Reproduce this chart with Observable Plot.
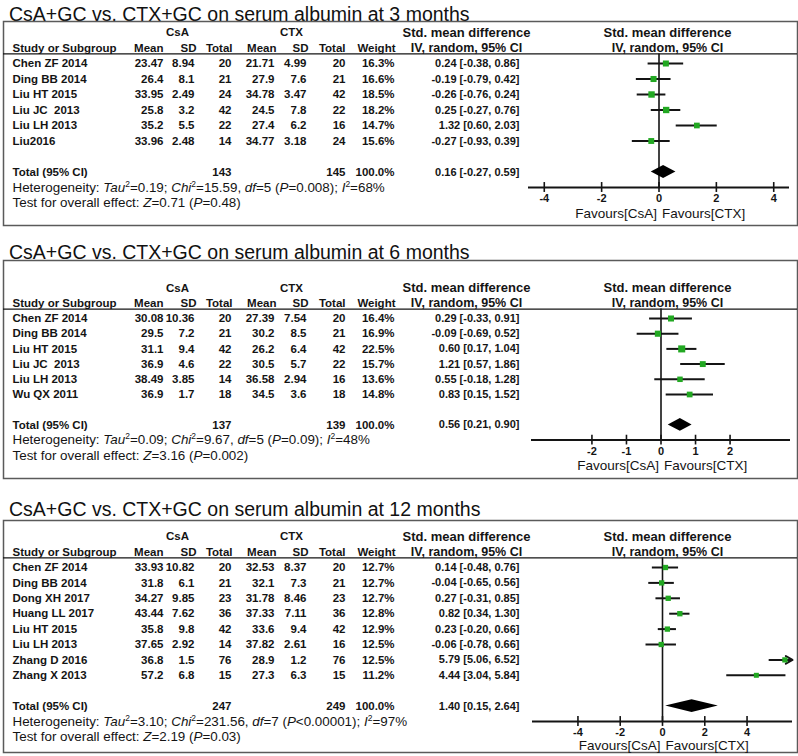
<!DOCTYPE html>
<html><head><meta charset="utf-8">
<script src="https://cdn.jsdelivr.net/npm/d3@7"></script>
<script src="https://cdn.jsdelivr.net/npm/@observablehq/plot@0.6"></script>
<style>
body{margin:0;background:#fff;font-family:"Liberation Sans",Arial,Helvetica,sans-serif;}
#wrap{position:relative;width:798px;height:756px;overflow:hidden;background:#fff;}
.title{position:absolute;left:9px;font-size:19.5px;line-height:20px;color:#111;white-space:nowrap;}
.panel{position:absolute;left:0;}
.panel svg{display:block;overflow:visible;}
</style></head><body><div id="wrap"></div>
<script>
// ---------- Panel 1: 3 months ----------
const title1 = "CsA+GC vs. CTX+GC on serum albumin at 3 months";
const studies1 = ["Chen ZF 2014","Ding BB 2014","Liu HT 2015","Liu JC  2013","Liu LH 2013","Liu2016"];
const csaMean1 = [23.47, 26.4, 33.95, 25.8, 35.2, 33.96];
const csaSD1   = [8.94, 8.1, 2.49, 3.2, 5.5, 2.48];
const csaN1    = [20, 21, 24, 42, 22, 14];
const ctxMean1 = [21.71, 27.9, 34.78, 24.5, 27.4, 34.77];
const ctxSD1   = [4.99, 7.6, 3.47, 7.8, 6.2, 3.18];
const ctxN1    = [20, 21, 42, 22, 16, 24];
const weight1  = [16.3, 16.6, 18.5, 18.2, 14.7, 15.6];
const smd1     = [0.24, -0.19, -0.26, 0.25, 1.32, -0.27];
const lo1      = [-0.38, -0.79, -0.76, -0.27, 0.60, -0.93];
const hi1      = [0.86, 0.42, 0.24, 0.76, 2.03, 0.39];
const totalN1  = [143, 145];
const totalSmd1 = [0.16, -0.27, 0.59];
const het1  = "Heterogeneity: *Tau*^2^=0.19; *Chi*^2^=15.59, *df*=5 (*P*=0.008); *I*^2^=68%";
const test1 = "Test for overall effect: *Z*=0.71 (*P*=0.48)";
const ticks1 = [-4, -2, 0, 2, 4];

// ---------- Panel 2: 6 months ----------
const title2 = "CsA+GC vs. CTX+GC on serum albumin at 6 months";
const studies2 = ["Chen ZF 2014","Ding BB 2014","Liu HT 2015","Liu JC  2013","Liu LH 2013","Wu QX 2011"];
const csaMean2 = [30.08, 29.5, 31.1, 36.9, 38.49, 36.9];
const csaSD2   = [10.36, 7.2, 9.4, 4.6, 3.85, 1.7];
const csaN2    = [20, 21, 42, 22, 14, 18];
const ctxMean2 = [27.39, 30.2, 26.2, 30.5, 36.58, 34.5];
const ctxSD2   = [7.54, 8.5, 6.4, 5.7, 2.94, 3.6];
const ctxN2    = [20, 21, 42, 22, 16, 18];
const weight2  = [16.4, 16.9, 22.5, 15.7, 13.6, 14.8];
const smd2     = [0.29, -0.09, 0.60, 1.21, 0.55, 0.83];
const lo2      = [-0.33, -0.69, 0.17, 0.57, -0.18, 0.15];
const hi2      = [0.91, 0.52, 1.04, 1.86, 1.28, 1.52];
const totalN2  = [137, 139];
const totalSmd2 = [0.56, 0.21, 0.90];
const het2  = "Heterogeneity: *Tau*^2^=0.09; *Chi*^2^=9.67, *df*=5 (*P*=0.09); *I*^2^=48%";
const test2 = "Test for overall effect: *Z*=3.16 (*P*=0.002)";
const ticks2 = [-2, -1, 0, 1, 2];

// ---------- Panel 3: 12 months ----------
const title3 = "CsA+GC vs. CTX+GC on serum albumin at 12 months";
const studies3 = ["Chen ZF 2014","Ding BB 2014","Dong XH 2017","Huang LL 2017","Liu HT 2015","Liu LH 2013","Zhang D 2016","Zhang X 2013"];
const csaMean3 = [33.93, 31.8, 34.27, 43.44, 35.8, 37.65, 36.8, 57.2];
const csaSD3   = [10.82, 6.1, 9.85, 7.62, 9.8, 2.92, 1.5, 6.8];
const csaN3    = [20, 21, 23, 36, 42, 14, 76, 15];
const ctxMean3 = [32.53, 32.1, 31.78, 37.33, 33.6, 37.82, 28.9, 27.3];
const ctxSD3   = [8.37, 7.3, 8.46, 7.11, 9.4, 2.61, 1.2, 6.3];
const ctxN3    = [20, 21, 23, 36, 42, 16, 76, 15];
const weight3  = [12.7, 12.7, 12.7, 12.8, 12.9, 12.5, 12.5, 11.2];
const smd3     = [0.14, -0.04, 0.27, 0.82, 0.23, -0.06, 5.79, 4.44];
const lo3      = [-0.48, -0.65, -0.31, 0.34, -0.20, -0.78, 5.06, 3.04];
const hi3      = [0.76, 0.56, 0.85, 1.30, 0.66, 0.66, 6.52, 5.84];
const totalN3  = [247, 249];
const totalSmd3 = [1.40, 0.15, 2.64];
const het3  = "Heterogeneity: *Tau*^2^=3.10; *Chi*^2^=231.56, *df*=7 (*P*<0.00001); *I*^2^=97%";
const test3 = "Test for overall effect: *Z*=2.19 (*P*=0.03)";
const ticks3 = [-4, -2, 0, 2, 4];

const headNames = ["Study or Subgroup","Mean","SD","Total","Mean","SD","Total","Weight"];

// ---------- layout ----------
const FONT = '"Liberation Sans", Arial, Helvetica, sans-serif';
const INK = "#141414";
const GREEN = "#22a822";
const headX = [12, 163, 196, 232, 276, 308, 345, 395];
const colX = {csaMean:163, csaSD:194, csaN:231, ctxMean:274, ctxSD:306, ctxN:345, w:394, smd:519,
  smdHead:466, forestHead:667, csaHead:177, ctxHead:291};
const layouts = [
  {titleTop: 4, top: 20, height: 206, firstY: 43, step: 15.5, xRange: [528, 789], domain: [-4.55, 4.55], favDy: 26},
  {titleTop: 242, top: 259, height: 220, firstY: 59, step: 15.2, xRange: [531, 790], domain: [-3.75, 3.75], favDy: 26},
  {titleTop: 498.5, top: 519, height: 234, firstY: 48, step: 15.4, xRange: [532, 792], domain: [-6.15, 6.15], favDy: 24.5}
];
const panels = [
  {title: title1, studies: studies1, csaMean: csaMean1, csaSD: csaSD1, csaN: csaN1, ctxMean: ctxMean1, ctxSD: ctxSD1, ctxN: ctxN1, weight: weight1, smd: smd1, lo: lo1, hi: hi1, totalN: totalN1, totalSmd: totalSmd1, het: het1, test: test1, ticks: ticks1},
  {title: title2, studies: studies2, csaMean: csaMean2, csaSD: csaSD2, csaN: csaN2, ctxMean: ctxMean2, ctxSD: ctxSD2, ctxN: ctxN2, weight: weight2, smd: smd2, lo: lo2, hi: hi2, totalN: totalN2, totalSmd: totalSmd2, het: het2, test: test2, ticks: ticks2},
  {title: title3, studies: studies3, csaMean: csaMean3, csaSD: csaSD3, csaN: csaN3, ctxMean: ctxMean3, ctxSD: ctxSD3, ctxN: ctxN3, weight: weight3, smd: smd3, lo: lo3, hi: hi3, totalN: totalN3, totalSmd: totalSmd3, het: het3, test: test3, ticks: ticks3}
];

function richify(svg) {
  const NS = "http://www.w3.org/2000/svg";
  svg.querySelectorAll("text").forEach(t => {
    const s = t.textContent;
    if (!/[*^]/.test(s)) return;
    t.textContent = "";
    let pendingDown = false;
    s.split(/(\*[^*]+\*|\^[^^]+\^)/).filter(x => x).forEach(seg => {
      const ts = document.createElementNS(NS, "tspan");
      if (seg[0] === "*") { ts.setAttribute("font-style", "italic"); seg = seg.slice(1, -1); if (pendingDown) { ts.setAttribute("dy", "5"); pendingDown = false; } }
      else if (seg[0] === "^") { ts.setAttribute("font-size", "8.5"); ts.setAttribute("dy", "-5"); seg = seg.slice(1, -1); pendingDown = true; }
      else if (pendingDown) { ts.setAttribute("dy", "5"); pendingDown = false; }
      ts.textContent = seg;
      t.appendChild(ts);
    });
  });
}

function build(p, L) {
  const k = p.studies.length;
  const rows = p.studies.map((s, i) => ({i, study: s, csaMean: p.csaMean[i], csaSD: p.csaSD[i], csaN: p.csaN[i],
    ctxMean: p.ctxMean[i], ctxSD: p.ctxSD[i], ctxN: p.ctxN[i], w: p.weight[i], smd: p.smd[i], lo: p.lo[i], hi: p.hi[i]}));
  const T = k + 1, A = k + 2, TEST = k + 3;
  const [dmin, dmax] = L.domain;
  const f2 = v => v.toFixed(2);
  const ci = (e, l, h) => `${f2(e)} [${f2(l)}, ${f2(h)}]`;
  const bold = {fontWeight: "bold", fontSize: 11.5, fill: INK};
  const at = x => ({frameAnchor: "left", dx: x - 3});
  const marks = [Plot.frame({stroke: "#5a5a5a", strokeWidth: 1.5})];
  marks.push(Plot.ruleY([-0.62], {stroke: INK, strokeWidth: 1.3}));
  // group headers
  marks.push(Plot.text(["CsA"], {y: -2, text: d => d, ...at(colX.csaHead), textAnchor: "middle", ...bold}));
  marks.push(Plot.text(["CTX"], {y: -2, text: d => d, ...at(colX.ctxHead), textAnchor: "middle", ...bold}));
  headNames.forEach((h, j) => marks.push(Plot.text([h], {y: -1, text: d => d, ...at(headX[j]), textAnchor: j === 0 ? "start" : "end", ...bold})));
  marks.push(Plot.text(["Std. mean difference"], {y: -2, text: d => d, ...at(colX.smdHead), textAnchor: "middle", ...bold, fontSize: 13}));
  marks.push(Plot.text(["IV, random, 95% CI"], {y: -1, text: d => d, ...at(colX.smdHead), textAnchor: "middle", ...bold, fontSize: 12.5}));
  marks.push(Plot.text(["Std. mean difference"], {y: -2, text: d => d, ...at(colX.forestHead), textAnchor: "middle", ...bold, fontSize: 13}));
  marks.push(Plot.text(["IV, random, 95% CI"], {y: -1, text: d => d, ...at(colX.forestHead), textAnchor: "middle", ...bold, fontSize: 12.5}));
  // table body
  marks.push(Plot.text(rows, {y: "i", text: "study", ...at(12), textAnchor: "start", ...bold}));
  ["csaMean","csaSD","csaN","ctxMean","ctxSD","ctxN"].forEach(f =>
    marks.push(Plot.text(rows, {y: "i", text: d => String(d[f]), ...at(colX[f]), textAnchor: "end", ...bold})));
  marks.push(Plot.text(rows, {y: "i", text: d => d.w.toFixed(1) + "%", ...at(colX.w), textAnchor: "end", ...bold}));
  marks.push(Plot.text(rows, {y: "i", text: d => ci(d.smd, d.lo, d.hi), ...at(colX.smd), textAnchor: "end", ...bold, fontSize: 11}));
  // totals
  marks.push(Plot.text(["Total (95% CI)"], {y: T, text: d => d, ...at(12), textAnchor: "start", ...bold}));
  marks.push(Plot.text([p.totalN[0]], {y: T, text: d => String(d), ...at(colX.csaN), textAnchor: "end", ...bold}));
  marks.push(Plot.text([p.totalN[1]], {y: T, text: d => String(d), ...at(colX.ctxN), textAnchor: "end", ...bold}));
  marks.push(Plot.text([100], {y: T, text: d => d.toFixed(1) + "%", ...at(colX.w), textAnchor: "end", ...bold}));
  marks.push(Plot.text([p.totalSmd], {y: T, text: d => ci(d[0], d[1], d[2]), ...at(colX.smd), textAnchor: "end", ...bold, fontSize: 11}));
  marks.push(Plot.text([p.het], {y: A, text: d => d, ...at(12), textAnchor: "start", fontSize: 13.4, fill: INK}));
  marks.push(Plot.text([p.test], {y: TEST, text: d => d, ...at(12), textAnchor: "start", fontSize: 13.4, fill: INK}));
  // forest
  marks.push(Plot.ruleX([0], {y1: -0.62, y2: A, stroke: INK, strokeWidth: 1.6}));
  const inside = rows.filter(d => d.hi <= dmax);
  const clipped = rows.filter(d => d.hi > dmax);
  marks.push(Plot.ruleY(inside, {y: "i", x1: "lo", x2: "hi", stroke: INK, strokeWidth: 2}));
  marks.push(Plot.arrow(clipped, {y1: "i", y2: "i", x1: "lo", x2: dmax, stroke: INK, strokeWidth: 2, headLength: 7}));
  marks.push(Plot.dot(rows, {x: "smd", y: "i", r: "w", symbol: "square", fill: GREEN, stroke: null}));
  const [te, tl, th] = p.totalSmd;
  const diamond = [{x: tl, y1: T, y2: T}, {x: te, y1: T - 0.42, y2: T + 0.42}, {x: th, y1: T, y2: T}];
  marks.push(Plot.areaY(diamond, {x: "x", y1: "y1", y2: "y2", fill: "#000"}));
  // axis
  marks.push(Plot.ruleY([A], {x1: dmin, x2: dmax, stroke: INK, strokeWidth: 2}));
  marks.push(Plot.ruleX(p.ticks, {x: d => d, y1: A - 0.32, y2: A + 0.32, stroke: INK, strokeWidth: 1.6}));
  marks.push(Plot.text(p.ticks, {x: d => d, y: A, dy: 11, text: d => String(d), fontWeight: "bold", fontSize: 11, fill: INK}));
  marks.push(Plot.text(["Favours[CsA]"], {x: 0, y: A, dy: L.favDy, dx: -2, text: d => d, textAnchor: "end", fontSize: 13.5, fill: INK}));
  marks.push(Plot.text(["Favours[CTX]"], {x: 0, y: A, dy: L.favDy, dx: 3, text: d => d, textAnchor: "start", fontSize: 13.5, fill: INK}));

  const svg = Plot.plot({
    width: 798, height: L.height,
    marginLeft: 3, marginRight: 1, marginTop: 1, marginBottom: 1,
    x: {domain: L.domain, range: L.xRange, axis: null},
    y: {type: "linear", domain: [0, 1], range: [L.firstY, L.firstY + L.step], axis: null},
    r: {domain: [0, 25], range: [0, 4.2]},
    style: {fontFamily: FONT, background: "transparent"},
    marks
  });
  richify(svg);
  return svg;
}

const wrap = document.getElementById("wrap");
panels.forEach((p, idx) => {
  const L = layouts[idx];
  const t = document.createElement("div");
  t.className = "title";
  t.style.top = L.titleTop + "px";
  t.textContent = p.title;
  wrap.appendChild(t);
  const d = document.createElement("div");
  d.className = "panel";
  d.style.top = L.top + "px";
  d.appendChild(build(p, L));
  wrap.appendChild(d);
});
</script>
</body></html>
